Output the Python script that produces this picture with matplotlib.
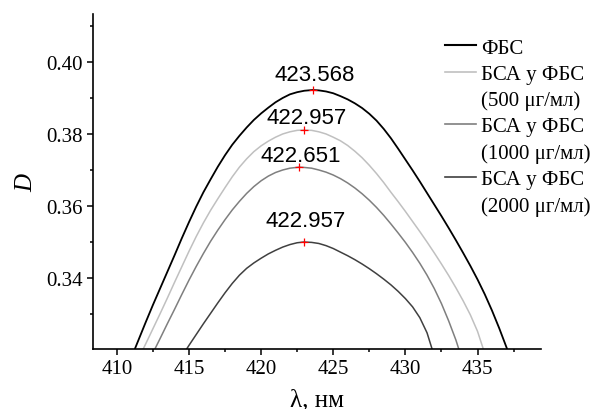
#peak positions of absorption bands
import numpy as np
import matplotlib
matplotlib.use('Agg')
import matplotlib.pyplot as plt
from matplotlib.lines import Line2D

#read data (lambda, D) for each curve
lam_fbs = [411.25, 412, 412.5, 413, 413.5, 414, 414.5, 415, 415.5, 416, 416.5, 417, 417.5,
           418, 418.5, 419, 419.5, 420, 420.5, 421, 421.5, 422, 422.5, 423, 423.568,
           424, 424.5, 425, 425.5, 426, 426.5, 427, 427.5, 428, 428.5, 429, 429.5, 430,
           430.5, 431, 431.5, 432, 432.5, 433, 433.5, 434, 434.5, 435, 435.5, 436, 436.5,
           437.05]
d_fbs = [0.3203, 0.3277, 0.3325, 0.3371, 0.3417, 0.3463, 0.3510, 0.3555, 0.3598, 0.3638,
         0.3674, 0.3709, 0.3741, 0.3770, 0.3795, 0.3818, 0.3839, 0.3857, 0.3873, 0.3888,
         0.3900, 0.3910, 0.3916, 0.3920, 0.3922, 0.3921, 0.3918, 0.3913, 0.3905, 0.3896,
         0.3885, 0.3872, 0.3856, 0.3837, 0.3814, 0.3788, 0.3759, 0.3729, 0.3699, 0.3668,
         0.3636, 0.3604, 0.3572, 0.3539, 0.3505, 0.3470, 0.3434, 0.3396, 0.3355, 0.3310,
         0.3261, 0.3203]

lam_500 = [411.83, 412, 412.5, 413, 413.5, 414, 414.5, 415, 415.5, 416, 416.5, 417, 417.5,
           418, 418.5, 419, 419.5, 420, 420.5, 421, 421.5, 422, 422.5, 422.957, 423.5,
           424, 424.5, 425, 425.5, 426, 426.5, 427, 427.5, 428, 428.5, 429, 429.5, 430,
           430.5, 431, 431.5, 432, 432.5, 433, 433.5, 434, 434.5, 435, 435.4]
d_500 = [0.3203, 0.3217, 0.3259, 0.3301, 0.3344, 0.3388, 0.3431, 0.3474, 0.3515, 0.3553,
         0.3588, 0.3620, 0.3651, 0.3681, 0.3708, 0.3731, 0.3751, 0.3767, 0.3780, 0.3791,
         0.3800, 0.3806, 0.3810, 0.3811, 0.3810, 0.3806, 0.3800, 0.3791, 0.3781, 0.3768,
         0.3752, 0.3734, 0.3713, 0.3690, 0.3665, 0.3638, 0.3612, 0.3585, 0.3557, 0.3529,
         0.3500, 0.3470, 0.3439, 0.3407, 0.3373, 0.3337, 0.3298, 0.3252, 0.3203]

lam_1000 = [412.64, 413, 413.5, 414, 414.5, 415, 415.5, 416, 416.5, 417, 417.5, 418, 418.5,
            419, 419.5, 420, 420.5, 421, 421.5, 422, 422.651, 423, 423.5, 424, 424.5, 425,
            425.5, 426, 426.5, 427, 427.5, 428, 428.5, 429, 429.5, 430, 430.5, 431, 431.5,
            432, 432.5, 433, 433.5, 433.7]
d_1000 = [0.3203, 0.3232, 0.3273, 0.3313, 0.3354, 0.3394, 0.3432, 0.3468, 0.3502, 0.3533,
          0.3562, 0.3589, 0.3613, 0.3635, 0.3654, 0.3670, 0.3683, 0.3693, 0.3700, 0.3705,
          0.3708, 0.3707, 0.3705, 0.3700, 0.3694, 0.3686, 0.3676, 0.3664, 0.3650, 0.3634,
          0.3616, 0.3596, 0.3574, 0.3550, 0.3525, 0.3499, 0.3471, 0.3441, 0.3408, 0.3371,
          0.3329, 0.3281, 0.3228, 0.3203]

lam_2000 = [414.84, 415, 415.5, 416, 416.5, 417, 417.5, 418, 418.5, 419, 419.5, 420, 420.5,
            421, 421.5, 422, 422.5, 422.957, 423.5, 424, 424.5, 425, 425.5, 426, 426.5, 427,
            427.5, 428, 428.5, 429, 429.5, 430, 430.5, 431, 431.5, 431.85]
d_2000 = [0.3203, 0.3213, 0.3243, 0.3273, 0.3302, 0.3331, 0.3359, 0.3385, 0.3408, 0.3427,
          0.3442, 0.3455, 0.3467, 0.3477, 0.3486, 0.3493, 0.3498, 0.3500, 0.3499, 0.3496,
          0.3490, 0.3482, 0.3472, 0.3462, 0.3451, 0.3439, 0.3426, 0.3412, 0.3397, 0.3381,
          0.3363, 0.3343, 0.3320, 0.3290, 0.3248, 0.3203]

peak_lam = [423.568, 422.957, 422.651, 422.957]
peak_d = [0.3922, 0.3811, 0.3708, 0.3500]
peak_txt = ['423.568', '422.957', '422.651', '422.957']
txt_lam = [423.72, 423.17, 422.77, 423.1]
txt_d = [0.3951, 0.3831, 0.3724, 0.3545]

labels = ['ФБС', 'БСА у ФБС', '(500 μг/мл)', 'БСА у ФБС', '(1000 μг/мл)',
          'БСА у ФБС', '(2000 μг/мл)']
colors = ['#000000', '#c0c0c0', '#7f7f7f', '#404040']

plt.rcParams['font.family'] = ['Liberation Serif', 'DejaVu Serif']

#**************************Create graph************************************
fig = plt.figure(figsize=(5.9, 4.1), dpi=100)
ax = fig.add_axes([0.1576, 0.1463, 0.7594, 0.8171])
ax.plot(lam_fbs, d_fbs, color=colors[0], lw=1.3)
ax.plot(lam_500, d_500, color=colors[1], lw=1.1)
ax.plot(lam_1000, d_1000, color=colors[2], lw=1.1)
ax.plot(lam_2000, d_2000, color=colors[3], lw=1.1)
ax.plot(peak_lam, peak_d, ls='none', marker='+', color='red', ms=6, mew=0.9)
for i in range(4):
    ax.text(txt_lam[i], txt_d[i], peak_txt[i], ha='center', va='baseline',
            fontsize=16, family=['Liberation Sans', 'DejaVu Sans'])

ax.set_xlim(408.35, 439.4)
ax.set_ylim(0.3203, 0.4133)
ax.set_xticks(np.arange(410, 436, 5))
ax.set_xticks(np.arange(412.5, 438, 5), minor=True)
ax.set_yticks([0.34, 0.36, 0.38, 0.40])
ax.set_yticks([0.33, 0.35, 0.37, 0.39, 0.41], minor=True)
ax.set_yticklabels(['0.34', '0.36', '0.38', '0.40'])
ax.spines['top'].set_visible(False)
ax.spines['right'].set_visible(False)
ax.spines['left'].set_linewidth(1.2)
ax.spines['bottom'].set_linewidth(1.2)
ax.tick_params(which='major', direction='out', length=4, width=1.1, labelsize=15)
ax.tick_params(which='minor', direction='out', length=2.5, width=1.1)
ax.set_xlabel('λ, нм', fontsize=18, labelpad=7)
ax.set_ylabel('D', fontsize=18, style='italic', labelpad=6)

#legend with blank handles for second lines
handles = [Line2D([], [], color=colors[0], lw=1.5),
           Line2D([], [], color=colors[1], lw=1.2),
           Line2D([], [], color='none'),
           Line2D([], [], color=colors[2], lw=1.2),
           Line2D([], [], color='none'),
           Line2D([], [], color=colors[3], lw=1.2),
           Line2D([], [], color='none')]
ax.legend(handles, labels, loc='upper left', bbox_to_anchor=(445/590, 1-39/410),
          bbox_transform=fig.transFigure, frameon=False, fontsize=15,
          handlelength=1.5, handletextpad=0.25, labelspacing=0.32,
          borderpad=0, borderaxespad=0)

plt.savefig('out.png', dpi=100)
